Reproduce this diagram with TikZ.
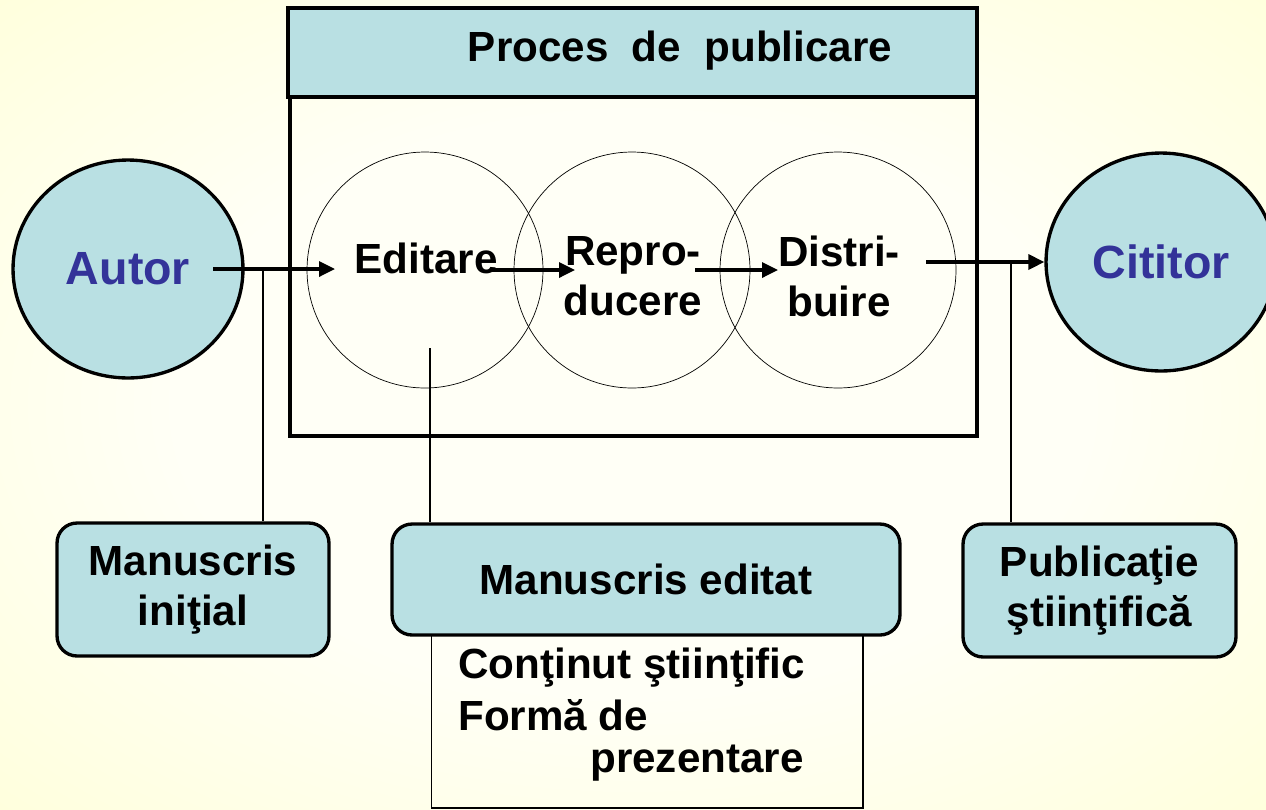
\documentclass[tikz,border=0pt]{standalone}
\usepackage{fontspec}
\setmainfont{Liberation Sans}
\usetikzlibrary{arrows.meta,calc,shapes.geometric}
\definecolor{boxblue}{RGB}{185,224,227}
\definecolor{autorblue}{RGB}{51,51,153}
\definecolor{bgyellow}{RGB}{255,255,200}
\definecolor{bgwhite}{RGB}{255,255,246}
\pgfdeclareradialshading{bgshade}{\pgfpoint{0bp}{0bp}}{color(0bp)=(bgwhite); color(18bp)=(bgwhite); color(50bp)=(bgyellow); color(75bp)=(bgyellow)}

\begin{document}
\begin{tikzpicture}[x=0.02cm,y=-0.02cm,
  txt/.style={font=\bfseries\fontsize{24}{28.5}\selectfont, align=center, inner sep=0pt},
  person/.style={ellipse, draw, line width=1.9pt, fill=boxblue, text=autorblue,
    font=\bfseries\fontsize{26.5}{30}\selectfont, minimum width=4.6cm, minimum height=4.36cm, inner sep=0pt},
  stage/.style={circle, draw, line width=0.4pt, minimum size=4.72cm},
  docbox/.style={rectangle, rounded corners=0.4cm, draw, line width=1.9pt, fill=boxblue, txt},
  arr/.style={-{Triangle[length=0.32cm,width=0.3cm]}, line width=1.9pt},
  link/.style={line width=0.6pt}]

% background
  \shade[shading=bgshade] (0,0) rectangle (1266,809);
  \useasboundingbox (0,0) rectangle (1266,809);

% the publishing process
  \node[draw, line width=1.9pt, minimum width=13.74cm, minimum height=6.78cm] (proc) at (633.5,266.5) {};
  \node[draw, line width=1.9pt, fill=boxblue, minimum width=13.78cm, minimum height=1.78cm] (hdr) at (632.5,52.5) {};
  \node[txt] (title) at (680,51) {Proces\ \ de\ \ publicare};

% the three stages
  \node[stage] (edit) at (425,270) {};
  \node[stage] (repro) at (632,270) {};
  \node[stage] (distr) at (838,270) {};
  \node[txt] (editT) at (426,258) {Editare};
  \node[txt] (reproT) at (633,276) {Repro-\\ducere};
  \node[txt] (distrT) at (839,276) {Distri-\\buire};

% author and reader
  \node[person] (autor) at (128,269) {Autor};
  \node[person] (cit) at (1161,262) {Cititor};

% the arrows
  \draw[arr] ($(autor.center)+(85,0)$) -- ($(edit.center)+(-90,-1)$);
  \draw[arr] ($(edit.center)+(65,0)$) -- ($(repro.center)+(-57,0)$);
  \draw[arr] ($(repro.center)+(63,0)$) -- ($(distr.center)+(-60,0)$);
  \draw[arr] ($(distr.center)+(88,-8)$) -- (cit.west);

% the documents
  \node[draw, link, minimum width=8.64cm, minimum height=3.46cm] (cont) at (647,721.5) {};
  \node[docbox, minimum width=5.44cm, minimum height=2.66cm] (ini) at (193,589.5) {Manuscris\\iniţial};
  \node[docbox, minimum width=10.16cm, minimum height=2.22cm] (med) at (646,579.5) {Manuscris editat};
  \node[docbox, minimum width=5.46cm, minimum height=2.66cm] (pub) at (1099.5,590.5) {Publicaţie\\ştiinţifică};
  \node[txt, anchor=base west] (c1) at (458,678) {Conţinut ştiinţific};
  \node[txt, anchor=base west] (c2) at (458,730) {Formă de};
  \node[txt, anchor=base west] (c3) at (590,772) {prezentare};

% the thin links down to the documents
  \coordinate (j1) at ($(autor.center)+(135,0)$);
  \coordinate (j2) at ($(edit.center)+(5,78)$);
  \coordinate (j3) at ($(distr.center)+(173,-8)$);
  \draw[link] (j1) -- (j1 |- ini.north);
  \draw[link] (j2) -- (j2 |- med.north);
  \draw[link] (j3) -- (j3 |- pub.north);
\end{tikzpicture}
\end{document}
